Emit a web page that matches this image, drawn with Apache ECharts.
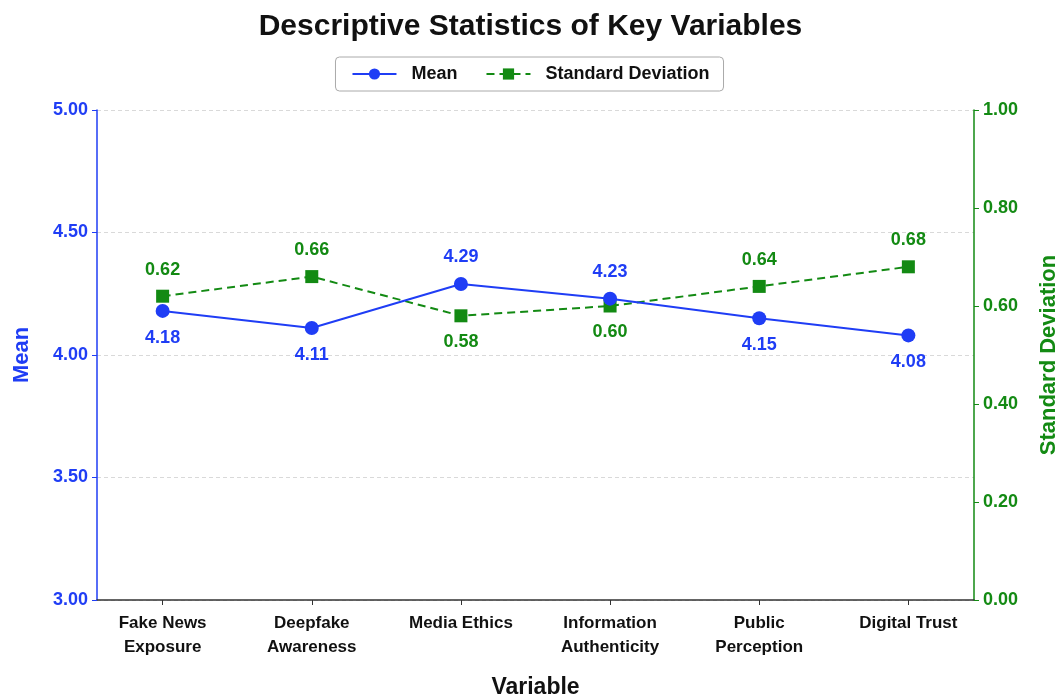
<!DOCTYPE html>
<html>
<head>
<meta charset="utf-8">
<script src="https://cdn.jsdelivr.net/npm/echarts@6/dist/echarts.min.js"></script>
<style>html,body{margin:0;padding:0;background:#fff}#c{width:1061px;height:695px}</style>
</head>
<body>
<div id="c"></div>
<script>
const categories = ['Fake News\nExposure', 'Deepfake\nAwareness', 'Media Ethics', 'Information\nAuthenticity', 'Public\nPerception', 'Digital Trust'];
const meanValues = [4.18, 4.11, 4.29, 4.23, 4.15, 4.08];
const sdValues = [0.62, 0.66, 0.58, 0.60, 0.64, 0.68];
const meanTicks = [3.0, 3.5, 4.0, 4.5, 5.0];
const sdTicks = [0.0, 0.2, 0.4, 0.6, 0.8, 1.0];

const BLUE = '#1f3df5';
const GREEN = '#138a13';
const FONT = '"Liberation Sans", Arial, sans-serif';

// position labels so they don't collide: compare relative heights on the two axes
const meanFrac = meanValues.map(v => (v - meanTicks[0]) / (meanTicks[meanTicks.length - 1] - meanTicks[0]));
const sdFrac = sdValues.map(v => (v - sdTicks[0]) / (sdTicks[sdTicks.length - 1] - sdTicks[0]));

const meanData = meanValues.map((v, i) => ({
  value: [i, v],
  label: { position: meanFrac[i] >= sdFrac[i] ? 'top' : 'bottom' }
}));
const sdData = sdValues.map((v, i) => ({
  value: [i, v],
  label: { position: sdFrac[i] > meanFrac[i] ? 'top' : 'bottom' }
}));

const chart = echarts.init(document.getElementById('c'), null, { renderer: 'canvas' });
chart.setOption({
  backgroundColor: '#ffffff',
  animation: false,
  title: {
    text: 'Descriptive Statistics of Key Variables',
    left: 'center',
    top: 7,
    textStyle: { fontFamily: FONT, fontWeight: 'bold', fontSize: 30, color: '#111' }
  },
  legend: {
    top: 57,
    left: 'center',
    itemGap: 28,
    itemWidth: 44,
    itemHeight: 14,
    padding: [8, 14, 8, 16],
    borderColor: '#aaa',
    borderWidth: 1,
    borderRadius: 4,
    textStyle: { fontFamily: FONT, fontWeight: 'bold', fontSize: 18, color: '#111', padding: [0, 0, 0, 10] },
    data: ['Mean', 'Standard Deviation']
  },
  grid: { left: 97, right: 87, top: 110, bottom: 95, outerBoundsMode: 'none' },
  xAxis: {
    type: 'value',
    min: -0.44,
    max: 5.44,
    name: 'Variable',
    nameLocation: 'middle',
    nameGap: 76,
    nameTextStyle: { fontFamily: FONT, fontWeight: 'bold', fontSize: 23, color: '#111' },
    axisLine: { show: true, onZero: false, lineStyle: { color: '#333', width: 1.5 } },
    axisTick: { show: true, customValues: categories.map((c, i) => i), length: 5, lineStyle: { color: '#333' } },
    axisLabel: {
      customValues: categories.map((c, i) => i),
      formatter: v => categories[Math.round(v)] || '',
      fontFamily: FONT, fontWeight: 'bold', fontSize: 17, color: '#111',
      lineHeight: 24, margin: 11
    },
    splitLine: { show: false }
  },
  yAxis: [
    {
      type: 'value',
      min: meanTicks[0],
      max: meanTicks[meanTicks.length - 1],
      interval: 0.5,
      name: 'Mean',
      nameLocation: 'middle',
      nameGap: 64,
      nameRotate: 90,
      nameTextStyle: { fontFamily: FONT, fontWeight: 'bold', fontSize: 22, color: BLUE },
      axisLine: { show: true, onZero: false, lineStyle: { color: BLUE, width: 1.5 } },
      axisTick: { show: true, length: 5, lineStyle: { color: BLUE } },
      axisLabel: { formatter: v => v.toFixed(2), fontFamily: FONT, fontWeight: 'bold', fontSize: 18, color: BLUE, margin: 9 },
      splitLine: { show: true, lineStyle: { color: '#d9d9d9', type: [4, 3], width: 1 } }
    },
    {
      type: 'value',
      min: sdTicks[0],
      max: sdTicks[sdTicks.length - 1],
      interval: 0.2,
      name: 'Standard Deviation',
      nameLocation: 'middle',
      nameGap: 64,
      nameRotate: 90,
      nameTextStyle: { fontFamily: FONT, fontWeight: 'bold', fontSize: 22, color: GREEN },
      axisLine: { show: true, onZero: false, lineStyle: { color: GREEN, width: 1.5 } },
      axisTick: { show: true, length: 5, lineStyle: { color: GREEN } },
      axisLabel: { formatter: v => v.toFixed(2), fontFamily: FONT, fontWeight: 'bold', fontSize: 18, color: GREEN, margin: 9 },
      splitLine: { show: false }
    }
  ],
  series: [
    {
      name: 'Mean',
      type: 'line',
      yAxisIndex: 0,
      data: meanData,
      symbol: 'circle',
      symbolSize: 14,
      itemStyle: { color: BLUE },
      lineStyle: { color: BLUE, width: 2 },
      label: {
        show: true,
        distance: 11,
        formatter: p => p.value[1].toFixed(2),
        fontFamily: FONT, fontWeight: 'bold', fontSize: 18, color: BLUE
      },
      z: 3
    },
    {
      name: 'Standard Deviation',
      type: 'line',
      yAxisIndex: 1,
      data: sdData,
      symbol: 'rect',
      symbolSize: 13,
      itemStyle: { color: GREEN },
      lineStyle: { color: GREEN, width: 2, type: [8, 5] },
      label: {
        show: true,
        distance: 11,
        formatter: p => p.value[1].toFixed(2),
        fontFamily: FONT, fontWeight: 'bold', fontSize: 18, color: GREEN
      },
      z: 2
    }
  ]
});
</script>
</body>
</html>
